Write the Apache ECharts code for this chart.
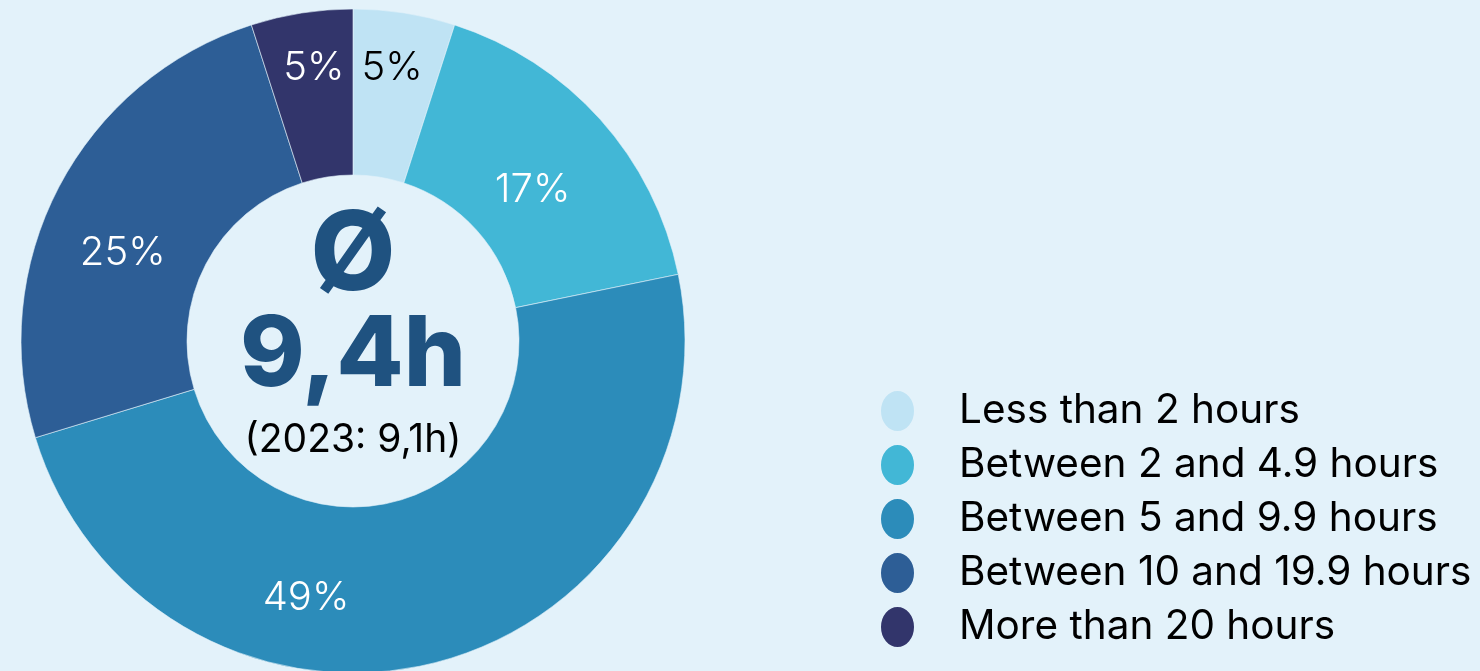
<!DOCTYPE html>
<html>
<head>
<meta charset="utf-8">
<style>
  html, body { margin: 0; padding: 0; background: #e3f2fa; }
  #chart { width: 1480px; height: 671px; }
</style>
<script src="https://cdn.jsdelivr.net/npm/echarts@6/dist/echarts.min.js"></script>
</head>
<body>
<div id="chart"></div>
<script>
// Weekly hours spent – share of respondents per band
const categories = [
  'Less than 2 hours',
  'Between 2 and 4.9 hours',
  'Between 5 and 9.9 hours',
  'Between 10 and 19.9 hours',
  'More than 20 hours'
];
const shares = [5, 17, 49, 25, 5];
const sliceColors = ['#bfe3f4', '#42b7d6', '#2c8cba', '#2d5e96', '#32356b'];
const labelColors = ['#000000', '#ffffff', '#ffffff', '#ffffff', '#ffffff'];
const averageLabel = '9,4h';
const previousLabel = '(2023: 9,1h)';

const FONT = 'Inter, "Open Sans", sans-serif';
const ellipseIcon = 'path://M50,0A50,50 0 1,1 50,100A50,50 0 1,1 50,0Z';

// per-slice label nudges inside the ring
const labelShift = [
  { dy: -24 },
  { dx: -8, dy: 17 },
  { dx: -109, dy: 13 },
  { dx: -7, dy: 29 },
  { dy: -24 }
];

const chart = echarts.init(document.getElementById('chart'), null, { renderer: 'canvas' });

chart.setOption({
  backgroundColor: '#e3f2fa',
  animation: false,
  color: sliceColors,
  legend: {
    orient: 'vertical',
    left: 879,
    top: 389,
    padding: 0,
    icon: ellipseIcon,
    symbolKeepAspect: false,
    itemWidth: 35,
    itemHeight: 42,
    itemGap: 10,
    selectedMode: false,
    data: categories,
    textStyle: {
      fontFamily: FONT,
      fontSize: 40.5,
      lineHeight: 42,
      color: '#000000',
      padding: [0, 0, 0, 39]
    }
  },
  graphic: [
    {
      type: 'text', x: 353, y: 257,
      style: { text: 'Ø', fontFamily: FONT, fontWeight: 800, fontSize: 110,
               fill: '#1f5280', align: 'center', verticalAlign: 'middle' }
    },
    {
      type: 'text', x: 353, y: 357,
      style: { text: averageLabel, fontFamily: FONT, fontWeight: 800, fontSize: 98,
               fill: '#1f5280', align: 'center', verticalAlign: 'middle' }
    },
    {
      type: 'text', x: 353, y: 440,
      style: { text: previousLabel, fontFamily: FONT, fontSize: 39,
               fill: '#000000', align: 'center', verticalAlign: 'middle' }
    }
  ],
  series: [{
    type: 'pie',
    center: [353, 341],
    radius: [166, 332],
    startAngle: 90,
    clockwise: true,
    silent: true,
    itemStyle: { borderColor: '#e3f2fa', borderWidth: 0.6 },
    label: {
      show: true,
      position: 'inside',
      fontFamily: FONT,
      fontWeight: 300,
      fontSize: 40,
      formatter: '{c}%'
    },
    labelLine: { show: false },
    labelLayout: function (p) {
      return labelShift[p.dataIndex] || {};
    },
    data: categories.map((name, i) => ({
      name: name,
      value: shares[i],
      label: { color: labelColors[i] }
    }))
  }]
});
</script>
</body>
</html>
